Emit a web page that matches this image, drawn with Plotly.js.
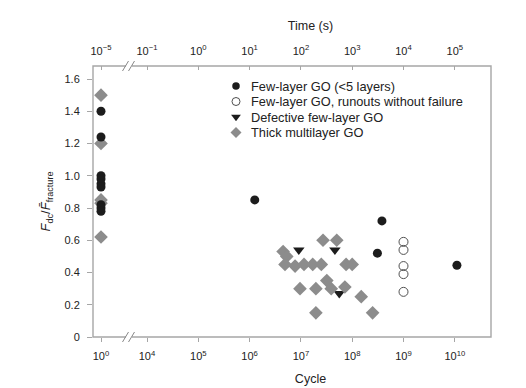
<!DOCTYPE html>
<html>
<head>
<meta charset="utf-8">
<script src="https://cdn.plot.ly/plotly-3.0.1.min.js"></script>
<style>html,body{margin:0;padding:0;background:#fff;}#chart{width:526px;height:388px;}</style>
</head>
<body>
<div id="chart"></div>
<script>
// ---- Data (cycles, normalised force) ----
// Static tests (cycle = 1)
const fewLayerStaticY = [1.40, 1.24, 1.00, 0.98, 0.95, 0.93, 0.82, 0.80, 0.78];
const thickStaticY = [1.50, 1.20, 0.85, 0.83, 0.62];
// Fatigue tests
const fewLayerCycles = [1.26e6, 3.8e8, 3.1e8, 1.1e10];
const fewLayerY = [0.85, 0.72, 0.52, 0.445];
const runoutCycles = [1e9, 1e9, 1e9, 1e9, 1e9];
const runoutY = [0.59, 0.54, 0.44, 0.39, 0.28];
const defectiveCycles = [9.1e6, 4.6e7, 5.6e7];
const defectiveY = [0.54, 0.54, 0.27];
const thickCycles = [2.7e7, 5.0e7, 4.5e6, 5.3e6, 4.9e6, 7.7e6, 1.15e7, 1.7e7, 2.5e7, 7.6e7, 1.0e8,
                     3.2e7, 9.6e6, 1.96e7, 3.9e7, 7.2e7, 1.5e8, 1.96e7, 2.5e8];
const thickY = [0.60, 0.60, 0.53, 0.50, 0.45, 0.44, 0.45, 0.45, 0.45, 0.45, 0.45,
                0.35, 0.30, 0.30, 0.30, 0.31, 0.25, 0.15, 0.15];
const secondsPerCycle = 1e-5;

// Series names (legend order)
const seriesNames = ['Few-layer GO (&lt;5 layers)', 'Few-layer GO, runouts without failure',
                     'Defective few-layer GO', 'Thick multilayer GO'];

// Tick labels
const cycleTickValsLeft = [1];
const cycleTickTextLeft = ['10<sup>0</sup>'];
const cycleTickValsRight = [1e4, 1e5, 1e6, 1e7, 1e8, 1e9, 1e10];
const cycleTickTextRight = ['10<sup>4</sup>', '10<sup>5</sup>', '10<sup>6</sup>', '10<sup>7</sup>', '10<sup>8</sup>', '10<sup>9</sup>', '10<sup>10</sup>'];
const timeTickValsLeft = [1e-5];
const timeTickTextLeft = ['10<sup>\u22125</sup>'];
const timeTickValsRight = [1e-1, 1e0, 1e1, 1e2, 1e3, 1e4, 1e5];
const timeTickTextRight = ['10<sup>\u22121</sup>', '10<sup>0</sup>', '10<sup>1</sup>', '10<sup>2</sup>', '10<sup>3</sup>', '10<sup>4</sup>', '10<sup>5</sup>'];
const yTickVals = [0, 0.2, 0.4, 0.6, 0.8, 1.0, 1.2, 1.4, 1.6];
const yTickText = ['0', '0.2', '0.4', '0.6', '0.8', '1.0', '1.2', '1.4', '1.6'];

const BLACK = '#1c1c1c';
const GRAY = '#8c8c8c';
const FRAME = '#a6a6a6';
const TXT = '#222';
const FONT = 'Arial, "Liberation Sans", Helvetica, sans-serif';

const markerStyles = [
  {symbol: 'circle', size: 9, color: BLACK},
  {symbol: 'circle-open', size: 9, color: '#505050', line: {width: 1}},
  {symbol: 'triangle-down', size: 10, color: BLACK},
  {symbol: 'diamond', size: 10.5, color: GRAY}
];
const legendKeySizes = [7.5, 8, 8.5, 8.5];

const ones = (n) => Array(n).fill(1);

const traces = [
  {x: fewLayerCycles, y: fewLayerY, xaxis: 'x2', yaxis: 'y2', mode: 'markers', type: 'scatter', name: seriesNames[0], marker: markerStyles[0]},
  {x: runoutCycles, y: runoutY, xaxis: 'x2', yaxis: 'y2', mode: 'markers', type: 'scatter', name: seriesNames[1], marker: markerStyles[1]},
  {x: defectiveCycles, y: defectiveY, xaxis: 'x2', yaxis: 'y2', mode: 'markers', type: 'scatter', name: seriesNames[2], marker: markerStyles[2]},
  {x: thickCycles, y: thickY, xaxis: 'x2', yaxis: 'y2', mode: 'markers', type: 'scatter', name: seriesNames[3], marker: markerStyles[3]},
  // static tests (left subplot)
  {x: ones(thickStaticY.length), y: thickStaticY, xaxis: 'x', yaxis: 'y', mode: 'markers', type: 'scatter', marker: markerStyles[3]},
  {x: ones(fewLayerStaticY.length), y: fewLayerStaticY, xaxis: 'x', yaxis: 'y', mode: 'markers', type: 'scatter', marker: markerStyles[0]},
  // invisible traces that carry the top time axes
  {x: ones(fewLayerStaticY.length).map(c => c * secondsPerCycle), y: fewLayerStaticY, xaxis: 'x3', yaxis: 'y',
   mode: 'markers', type: 'scatter', opacity: 0, hoverinfo: 'skip'},
  {x: fewLayerCycles.map(c => c * secondsPerCycle), y: fewLayerY, xaxis: 'x4', yaxis: 'y2',
   mode: 'markers', type: 'scatter', opacity: 0, hoverinfo: 'skip'}
];
// legend key symbols, one row per series, on their own hidden axes
seriesNames.forEach((n, i) => {
  traces.push({x: [0], y: [i], xaxis: 'x5', yaxis: 'y5', mode: 'markers', type: 'scatter',
    marker: Object.assign({}, markerStyles[i], {size: legendKeySizes[i]}), hoverinfo: 'skip'});
});

const L = 93, R = 491, T = 66, B = 337, W = 526, H = 388;
const pw = R - L, ph = B - T;
const breakPx = 130;
const dBreak = (breakPx - L) / pw;
const px = (p) => (p - L) / pw;     // pixel x -> paper
const py = (p) => (B - p) / ph;     // pixel y -> paper

const decade = 51.3;
const leftRange = [-(101 - L) / decade, (breakPx - 101) / decade];
const rightRange = [4 - (147 - breakPx) / decade, 4 + (R - 147) / decade];
const tShift = Math.log10(secondsPerCycle);

const tickFont = {family: FONT, size: 11, color: TXT};
const titleFont = {family: FONT, size: 12.5, color: TXT};
const baseX = {type: 'log', showgrid: false, zeroline: false, showline: false,
  ticks: 'outside', ticklen: 4, tickcolor: FRAME, tickwidth: 1, tickfont: tickFont, fixedrange: true};

const shapes = [
  {type: 'rect', xref: 'paper', yref: 'paper', x0: 0, x1: 1, y0: 0, y1: 1, line: {color: FRAME, width: 1.4}}
];
// axis break marks (bottom and top)
[B, T].forEach(yy => {
  shapes.push({type: 'rect', xref: 'paper', yref: 'paper', x0: px(126), x1: px(132), y0: py(yy + 1.5), y1: py(yy - 1.5),
    line: {width: 0}, fillcolor: '#fff'});
  [125.5, 131.5].forEach(xc => {
    shapes.push({type: 'line', xref: 'paper', yref: 'paper', x0: px(xc - 3), x1: px(xc + 3), y0: py(yy + 5), y1: py(yy - 5),
      line: {color: '#888', width: 1}});
  });
});

// legend block geometry
const legRow0 = 86, legStep = 15.5, legKeyX = 236, legTextX = 249;
const annotations = seriesNames.map((n, i) => ({
  xref: 'paper', yref: 'paper', x: px(legTextX), y: py(legRow0 + i * legStep), xanchor: 'left', yanchor: 'middle',
  text: n, showarrow: false, font: {family: FONT, size: 12.8, color: TXT}
}));

const layout = {
  width: W, height: H,
  margin: {l: L, r: W - R, t: T, b: H - B, pad: 0},
  paper_bgcolor: '#fff', plot_bgcolor: '#fff',
  font: {family: FONT, size: 11, color: TXT},
  showlegend: false,
  xaxis: Object.assign({}, baseX, {domain: [0, dBreak], range: leftRange, anchor: 'y',
    tickvals: cycleTickValsLeft, ticktext: cycleTickTextLeft, ticklabelstandoff: 5}),
  xaxis2: Object.assign({}, baseX, {domain: [dBreak, 1], range: rightRange, anchor: 'y2',
    tickvals: cycleTickValsRight, ticktext: cycleTickTextRight, ticklabelstandoff: 5,
    title: {text: 'Cycle', font: titleFont, standoff: 13}}),
  xaxis3: Object.assign({}, baseX, {overlaying: 'x', side: 'top', anchor: 'y', ticks: 'inside', ticklabelstandoff: 8,
    range: [leftRange[0] + tShift, leftRange[1] + tShift], tickvals: timeTickValsLeft, ticktext: timeTickTextLeft}),
  xaxis4: Object.assign({}, baseX, {overlaying: 'x2', side: 'top', anchor: 'y2', ticks: 'inside', ticklabelstandoff: 8,
    range: [rightRange[0] + tShift, rightRange[1] + tShift], tickvals: timeTickValsRight, ticktext: timeTickTextRight,
    title: {text: 'Time (s)', font: titleFont, standoff: 9}}),
  xaxis5: {domain: [px(legKeyX - 10), px(legKeyX + 10)], range: [-1, 1], visible: false, fixedrange: true, anchor: 'y5'},
  yaxis5: {domain: [py(legRow0 - legStep / 2 + 4 * legStep), py(legRow0 - legStep / 2)], range: [3.5, -0.5],
    visible: false, fixedrange: true, anchor: 'x5'},
  yaxis: {domain: [0, 1], range: [0, (B - T) / 161.25], anchor: 'x', showgrid: false, zeroline: false, showline: false,
    ticks: 'outside', ticklen: 5, tickcolor: FRAME, tickfont: tickFont, tickvals: yTickVals, ticktext: yTickText,
    ticklabelstandoff: 5, fixedrange: true,
    title: {text: '<i>F</i><sub>dc</sub>/<i>F\u0304</i><sub>fracture</sub>', font: {family: FONT, size: 13, color: TXT}, standoff: 10}},
  yaxis2: {domain: [0, 1], matches: 'y', anchor: 'x2', showgrid: false, zeroline: false, showline: false,
    showticklabels: false, ticks: '', fixedrange: true},
  shapes: shapes,
  annotations: annotations,
  hovermode: false
};

Plotly.newPlot('chart', traces, layout, {displayModeBar: false, staticPlot: true});
</script>
</body>
</html>
